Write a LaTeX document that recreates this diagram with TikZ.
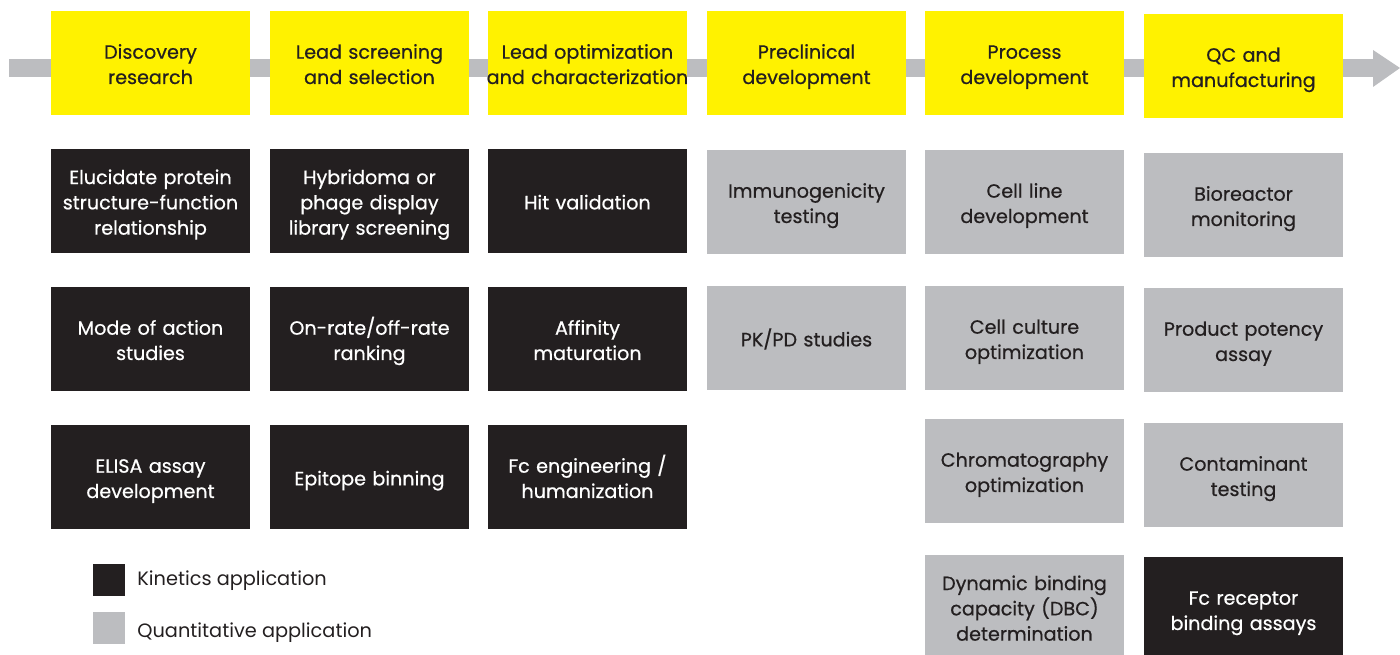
\documentclass[tikz,border=0pt]{standalone}
\usepackage{fontspec}
\setmainfont{Poppins}
\newfontfamily\boxfont{Poppins}[FakeBold=0.6]
\newcommand\topstrut{\hyphenpenalty=10000\rule{0pt}{13.8pt}}
\newcommand\botstrut{\rule[-4.3pt]{0pt}{0pt}}
\definecolor{stageyellow}{HTML}{FFF200}
\definecolor{kinblack}{HTML}{231F20}
\definecolor{quantgrey}{HTML}{BCBDC0}
\tikzstyle{box}=[
        inner ysep=0pt,
        inner xsep=-0.1cm,
        text width=4.18cm,
        minimum height=2.08cm,
        align=center,
        font=\boxfont\fontsize{10.9}{14.4}\selectfont,
        execute at begin node=\topstrut,
        execute at end node=\botstrut
]
\tikzstyle{stage}=[box, fill=stageyellow, text=kinblack]
\tikzstyle{kinetic}=[box, fill=kinblack, text=white]
\tikzstyle{quant}=[box, fill=quantgrey, text=kinblack]
\tikzstyle{key}=[inner sep=0pt, minimum size=0.64cm]
\tikzstyle{keytext}=[anchor=west, inner sep=0pt, text=kinblack,
        font=\fontsize{11}{13}\selectfont]

\begin{document}
\begin{tikzpicture}[x=0.02cm, y=-0.02cm]
                    \clip (0,0) rectangle (1400,655);
                    \useasboundingbox (0,0) rectangle (1400,655);

                    % timeline arrow
                    \fill[quantgrey] (9,59) rectangle (1374,77);
                    \fill[quantgrey] (1373,50) -- (1400,68) -- (1373,87) -- cycle;

                    % stages
                    \node[stage] (discovery) at (150.5,63) {Discovery\\research};
                    \node[stage] (screening) at (369.5,63) {Lead screening\\and selection};
                    \node[stage] (optim) at (587.5,63) {Lead optimization\\and characterization};
                    \node[stage] (preclin) at (806.5,63) {Preclinical\\development};
                    \node[stage] (process) at (1024.5,63) {Process\\development};
                    \node[stage] (qc) at (1243.5,66) {QC and\\manufacturing};

                    % discovery research
                    \node[kinetic] (structure) at (150.5,201) {Elucidate protein\\structure-function\\relationship};
                    \node[kinetic] (action) at (150.5,339) {Mode of action\\studies};
                    \node[kinetic] (elisa) at (150.5,477) {ELISA assay\\development};

                    % lead screening
                    \node[kinetic] (hybridoma) at (369.5,201) {Hybridoma or\\phage display\\library screening};
                    \node[kinetic] (ranking) at (369.5,339) {On-rate/off-rate\\ranking};
                    \node[kinetic] (epitope) at (369.5,477) {Epitope binning};

                    % lead optimization
                    \node[kinetic] (hit) at (587.5,201) {Hit validation};
                    \node[kinetic] (affinity) at (587.5,339) {Affinity\\maturation};
                    \node[kinetic] (fceng) at (587.5,477) {Fc engineering /\\humanization};

                    % preclinical
                    \node[quant] (immuno) at (806.5,202) {Immunogenicity\\testing};
                    \node[quant] (pkpd) at (806.5,338) {PK/PD studies};

                    % process development
                    \node[quant] (cellline) at (1024.5,202) {Cell line\\development};
                    \node[quant] (culture) at (1024.5,338) {Cell culture\\optimization};
                    \node[quant] (chroma) at (1024.5,471) {Chromatography\\optimization};
                    \node[quant] (dbc) at (1024.5,607) {Dynamic binding\\capacity (DBC)\\determination};

                    % QC and manufacturing
                    \node[quant] (bioreactor) at (1243.5,205) {Bioreactor\\monitoring};
                    \node[quant] (potency) at (1243.5,340) {Product potency\\assay};
                    \node[quant] (contaminant) at (1243.5,475) {Contaminant\\testing};
                    \node[kinetic] (fcreceptor) at (1243.5,609) {Fc receptor\\binding assays};

                    % legend
                    \node[key, fill=kinblack] (kinkey) at (109,580) {};
                    \node[key, fill=quantgrey] (quantkey) at (109,628) {};
                    \node[keytext] (kinlabel) at (137,581) {Kinetics application};
                    \node[keytext] (quantlabel) at (137,633) {Quantitative application};

                \end{tikzpicture}
\end{document}
